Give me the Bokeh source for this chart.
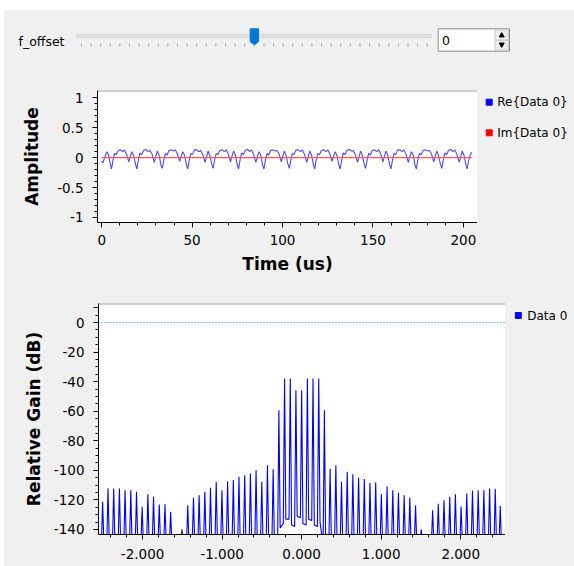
from bokeh.plotting import figure
from bokeh.models import Range1d, Span, FixedTicker, Spacer
from bokeh.layouts import column, row
from bokeh.embed import file_html
from bokeh.resources import INLINE
from bokeh.core.properties import value

# ---------------- data ----------------
slider_label = "f_offset"
slider_min, slider_max, slider_value = -18, 18, 0
slider_ticks = list(range(-18, 19))
spin_text = "0"

re_t = [
    0.00, 0.70, 1.60, 2.80, 3.90, 4.70,
    5.40, 6.20, 7.10, 8.00, 9.10, 10.40, 11.60, 12.60, 13.80, 15.00, 15.70, 16.70, 17.70, 18.60,
    19.45, 20.25, 21.15, 22.05, 23.15, 24.45, 25.65, 26.65, 27.85, 29.05, 29.75, 30.75, 31.75, 32.65,
    33.50, 34.30, 35.20, 36.10, 37.20, 38.50, 39.70, 40.70, 41.90, 43.10, 43.80, 44.80, 45.80, 46.70,
    47.55, 48.35, 49.25, 50.15, 51.25, 52.55, 53.75, 54.75, 55.95, 57.15, 57.85, 58.85, 59.85, 60.75,
    61.60, 62.40, 63.30, 64.20, 65.30, 66.60, 67.80, 68.80, 70.00, 71.20, 71.90, 72.90, 73.90, 74.80,
    75.65, 76.45, 77.35, 78.25, 79.35, 80.65, 81.85, 82.85, 84.05, 85.25, 85.95, 86.95, 87.95, 88.85,
    89.70, 90.50, 91.40, 92.30, 93.40, 94.70, 95.90, 96.90, 98.10, 99.30, 100.00, 101.00, 102.00, 102.90,
    103.75, 104.55, 105.45, 106.35, 107.45, 108.75, 109.95, 110.95, 112.15, 113.35, 114.05, 115.05, 116.05, 116.95,
    117.80, 118.60, 119.50, 120.40, 121.50, 122.80, 124.00, 125.00, 126.20, 127.40, 128.10, 129.10, 130.10, 131.00,
    131.85, 132.65, 133.55, 134.45, 135.55, 136.85, 138.05, 139.05, 140.25, 141.45, 142.15, 143.15, 144.15, 145.05,
    145.90, 146.70, 147.60, 148.50, 149.60, 150.90, 152.10, 153.10, 154.30, 155.50, 156.20, 157.20, 158.20, 159.10,
    159.95, 160.75, 161.65, 162.55, 163.65, 164.95, 166.15, 167.15, 168.35, 169.55, 170.25, 171.25, 172.25, 173.15,
    174.00, 174.80, 175.70, 176.60, 177.70, 179.00, 180.20, 181.20, 182.40, 183.60, 184.30, 185.30, 186.30, 187.20,
    188.05, 188.85, 189.75, 190.65, 191.75, 193.05, 194.25, 195.25, 196.45, 197.65, 198.35, 199.35, 200.35, 201.25,
    202.10, 202.90, 203.80, 204.60,
]
re_v = [
    -0.06, -0.09, 0.00, 0.10, 0.03, -0.10,
    -0.19, -0.05, 0.07, 0.05, 0.12, 0.13, 0.10, 0.13, 0.05, -0.07, 0.01, 0.10, 0.03, -0.10,
    -0.19, -0.04, 0.08, 0.05, 0.12, 0.14, 0.10, 0.12, 0.06, -0.08, 0.00, 0.11, 0.04, -0.11,
    -0.18, -0.05, 0.07, 0.04, 0.12, 0.13, 0.11, 0.13, 0.06, -0.06, 0.01, 0.10, 0.04, -0.10,
    -0.19, -0.05, 0.07, 0.05, 0.13, 0.13, 0.10, 0.12, 0.05, -0.08, 0.00, 0.11, 0.03, -0.10,
    -0.18, -0.04, 0.07, 0.05, 0.12, 0.13, 0.10, 0.13, 0.06, -0.07, 0.01, 0.11, 0.04, -0.10,
    -0.19, -0.05, 0.08, 0.05, 0.12, 0.14, 0.10, 0.13, 0.05, -0.08, 0.00, 0.10, 0.04, -0.11,
    -0.19, -0.05, 0.07, 0.04, 0.12, 0.13, 0.11, 0.12, 0.06, -0.07, 0.01, 0.11, 0.03, -0.10,
    -0.18, -0.05, 0.07, 0.05, 0.13, 0.13, 0.10, 0.13, 0.05, -0.08, 0.00, 0.11, 0.04, -0.10,
    -0.19, -0.04, 0.07, 0.05, 0.12, 0.13, 0.10, 0.13, 0.06, -0.06, 0.01, 0.10, 0.04, -0.11,
    -0.19, -0.05, 0.08, 0.05, 0.12, 0.14, 0.11, 0.12, 0.05, -0.08, 0.00, 0.11, 0.03, -0.10,
    -0.18, -0.05, 0.07, 0.04, 0.12, 0.13, 0.10, 0.13, 0.06, -0.07, 0.01, 0.11, 0.04, -0.10,
    -0.19, -0.05, 0.07, 0.05, 0.13, 0.13, 0.10, 0.13, 0.05, -0.08, 0.00, 0.10, 0.04, -0.11,
    -0.19, -0.04, 0.07, 0.05, 0.12, 0.13, 0.11, 0.12, 0.06, -0.07, 0.01, 0.11, 0.03, -0.10,
    -0.18, -0.05, 0.08, 0.05, 0.12, 0.14, 0.10, 0.13, 0.05, -0.08, 0.00, 0.11, 0.04, -0.10,
    -0.19, -0.05, 0.05, 0.09,
]
im_t = [0.0, 204.6]
im_v = [0.0, 0.0]

time_ticks = [0, 50, 100, 150, 200]
time_minor = [10, 20, 30, 40, 60, 70, 80, 90, 110, 120, 130, 140, 160, 170, 180, 190]
amp_ticks = [-1, -0.5, 0, 0.5, 1]
amp_tick_labels = ["-1", "-0.5", "0", "0.5", "1"]
amp_minor = [-0.9, -0.8, -0.7, -0.6, -0.4, -0.3, -0.2, -0.1,
             0.1, 0.2, 0.3, 0.4, 0.6, 0.7, 0.8, 0.9]

spec_f = [-2.502, -2.434, -2.363, -2.291, -2.220, -2.148, -2.076, -2.005, -1.933, -1.862,
          -1.790, -1.718, -1.647, -1.504, -1.432, -1.360, -1.289, -1.217, -1.146, -1.074,
          -1.002, -0.931, -0.859, -0.788, -0.716, -0.644, -0.573, -0.501, -0.430, -0.358,
          -0.286, -0.215, -0.143, -0.072, 0.000, 0.072, 0.143, 0.215, 0.286,
          0.358, 0.430, 0.501, 0.573, 0.644, 0.716, 0.788, 0.859, 0.931, 1.002,
          1.074, 1.146, 1.217, 1.289, 1.360, 1.432, 1.504, 1.647, 1.718, 1.790,
          1.862, 1.933, 2.005, 2.076, 2.148, 2.220, 2.291, 2.363, 2.434, 2.497]
spec_peak = [-121.3, -112.3, -112.3, -112.3, -113.4, -113.4, -114.5, -124.7, -116.1, -117.9,
             -123.1, -122.9, -128.1, -139.8, -123.6, -118.6, -116.8, -114.5, -111.8, -107.8,
             -113.4, -107.3, -106.6, -104.4, -103.3, -102.1, -99.9, -107.8, -96.5, -99.2,
             -59.3, -37.9, -37.9, -45.8, -45.8, -37.9, -37.9, -37.9, -59.3,
             -99.0, -96.5, -107.8, -101.0, -102.7, -105.0, -105.8, -108.5, -108.1, -116.0,
             -111.0, -113.4, -115.1, -116.8, -118.6, -123.6, -139.8, -127.0, -122.6, -120.2,
             -117.9, -116.2, -124.4, -115.6, -113.6, -113.4, -113.4, -112.3, -112.5, -124.2]
# low points left / right of each spike (below -143 means off the bottom of the plot)
spec_low_left = [-150.0] * 31 + [-136.0, -133.0, -138.0, -132.0, -137.0, -134.0, -138.0] + [-150.0] * 31
spec_low_right = [-150.0] * 30 + [-139.0, -133.0, -137.0, -131.0, -136.0, -133.0, -137.0, -135.0] + [-150.0] * 31
ref_level = 0.0

freq_ticks = [-2, -1, 0, 1, 2]
freq_tick_labels = ["-2.000", "-1.000", "0.000", "1.000", "2.000"]
freq_minor = [-2.4, -2.2, -1.8, -1.6, -1.4, -1.2, -0.8, -0.6, -0.4, -0.2,
              0.2, 0.4, 0.6, 0.8, 1.2, 1.4, 1.6, 1.8, 2.2, 2.4]
gain_ticks = [-140, -120, -100, -80, -60, -40, -20, 0, 10]
gain_tick_labels = ["-140", "-120", "-100", "-80", "-60", "-40", "-20", "0", ""]
gain_minor = [-135, -130, -125, -115, -110, -105, -95, -90, -85, -75, -70, -65,
              -55, -50, -45, -35, -30, -25, -15, -10, -5, 5]

time_legend = ["Re{Data 0}", "Im{Data 0}"]
time_legend_colors = ["#0000ff", "#ff0000"]
freq_legend = ["Data 0"]
freq_legend_colors = ["#0000ff"]

# ---------------- style ----------------
GRAY = "#f0f0f0"
FONT = "DejaVu Sans"


def style_axes(p):
    for ax in list(p.xaxis) + list(p.yaxis):
        ax.axis_line_color = "#000000"
        ax.major_tick_line_color = "#000000"
        ax.minor_tick_line_color = "#000000"
        ax.major_tick_in = 0
        ax.major_tick_out = 5
        ax.minor_tick_in = 0
        ax.minor_tick_out = 3
        ax.major_label_text_font = FONT
        ax.major_label_text_font_size = "13.5px"
        ax.major_label_text_color = "#000000"
        ax.axis_label_text_font = FONT
        ax.axis_label_text_font_size = "17px"
        ax.axis_label_text_font_style = "bold"
        ax.axis_label_text_color = "#000000"
    p.xgrid.visible = False
    p.ygrid.visible = False


def legend_fig(w, h, y_top, y_bottom, labels, colors, sq_x, row_y, row_gap, text_x):
    # the frame of this figure is aligned with its neighbour's frame (page y_top..y_bottom)
    f = figure(width=w, height=h, x_range=Range1d(0, w), y_range=Range1d(y_bottom, y_top),
               output_backend="svg", toolbar_location=None, min_border=0,
               x_axis_location=None, y_axis_location=None,
               background_fill_color=GRAY, border_fill_color=GRAY, outline_line_color=None)
    f.xgrid.visible = False
    f.ygrid.visible = False
    ys = [row_y + i * row_gap for i in range(len(labels))]
    f.scatter(x=[sq_x] * len(labels), y=ys, marker="square", size=6,
              fill_color=colors, line_color=colors)
    f.text(x=[text_x] * len(labels), y=ys, text=labels, text_font=value(FONT),
           text_font_size="12px", text_baseline="middle", text_align="left", text_color="#000000")
    return f


# ---------------- slider row (page x 4..574, y 10..70) ----------------
px_per_unit = 9.603
def su(px):
    return slider_min + (px - 81.0) / px_per_unit

p0 = figure(width=570, height=60, x_range=Range1d(su(4), su(574)), y_range=Range1d(70, 10),
            output_backend="svg", toolbar_location=None, min_border=0,
            x_axis_location=None, y_axis_location=None,
            background_fill_color=GRAY, border_fill_color=GRAY, outline_line_color=None)
p0.xgrid.visible = False
p0.ygrid.visible = False
p0.text(x=[su(18)], y=[40.5], text=[slider_label], text_font=value(FONT), text_font_size="12.5px",
        text_baseline="middle", text_align="left", text_color="#000000")
p0.quad(left=[su(76)], right=[su(431)], top=[33.8], bottom=[36.8],
        fill_color="#e6e6e6", line_color="#d4d4d4", line_width=1)
p0.segment(x0=slider_ticks, y0=[42.8] * len(slider_ticks), x1=slider_ticks, y1=[46] * len(slider_ticks),
           line_color="#a8a8a8", line_width=1)
hw = 4.2 / px_per_unit
p0.patch(x=[slider_value - hw, slider_value + hw, slider_value + hw, slider_value, slider_value - hw],
         y=[28.3, 28.3, 41.2, 44.3, 41.2], fill_color="#0078d7", line_color="#0078d7", line_width=1)
p0.quad(left=[su(437.7)], right=[su(509)], top=[28.3], bottom=[50.7],
        fill_color="#ffffff", line_color="#8c8c8c", line_width=1)
p0.quad(left=[su(494.5)], right=[su(508)], top=[29.3], bottom=[39.7],
        fill_color="#ececec", line_color="#c8c8c8", line_width=1)
p0.quad(left=[su(494.5)], right=[su(508)], top=[39.7], bottom=[49.7],
        fill_color="#ececec", line_color="#c8c8c8", line_width=1)
p0.scatter(x=[su(501.2)], y=[35.0], marker="triangle", size=5, fill_color="#000000", line_color="#000000")
p0.scatter(x=[su(501.2)], y=[44.0], marker="inverted_triangle", size=5, fill_color="#000000", line_color="#000000")
p0.text(x=[su(441.5)], y=[40], text=[spin_text], text_font=value(FONT), text_font_size="12.5px",
        text_baseline="middle", text_align="left", text_color="#000000")

# ---------------- time plot (page x 4..477, y 70..288) ----------------
p1 = figure(width=473, height=218, x_range=Range1d(-2.33, 207.8), y_range=Range1d(-1.084, 1.122),
            output_backend="svg", toolbar_location=None,
            min_border_left=93, min_border_right=0, min_border_top=20, min_border_bottom=66,
            background_fill_color="#ffffff", border_fill_color=GRAY, outline_line_color=None)
p1.line(re_t, re_v, line_color="#4a4aff", line_width=1.1)
p1.line(im_t, im_v, line_color="#ff5a5a", line_width=1.2)
p1.add_layout(Span(location=1.122, dimension="width", line_color="#a0a0a0", line_width=2))
p1.xaxis.ticker = FixedTicker(ticks=time_ticks, minor_ticks=time_minor)
p1.yaxis.ticker = FixedTicker(ticks=amp_ticks, minor_ticks=amp_minor)
p1.yaxis.major_label_overrides = {t: l for t, l in zip(amp_ticks, amp_tick_labels)}
p1.xaxis.axis_label = "Time (us)"
p1.yaxis.axis_label = "Amplitude"
style_axes(p1)
p1.xaxis.major_label_standoff = 7
p1.xaxis.axis_label_standoff = 6
p1.yaxis.major_label_standoff = 9
p1.yaxis.axis_label_standoff = 12
l1 = legend_fig(97, 218, 90, 222, time_legend, time_legend_colors, 11.7, 101.7, 30.6, 19.7)

# ---------------- frequency plot (page x 4..505, y 288..566) ----------------
spike_hw = 0.016
sx, sy = [], []
for f, pk, lo_l, lo_r in zip(spec_f, spec_peak, spec_low_left, spec_low_right):
    sx += [f - spike_hw, f, f + spike_hw]
    sy += [lo_l, pk, lo_r]

p2 = figure(width=501, height=278, x_range=Range1d(-2.554, 2.563), y_range=Range1d(-143.4, 12.9),
            output_backend="svg", toolbar_location=None,
            min_border_left=94, min_border_right=0, min_border_top=15, min_border_bottom=32,
            background_fill_color="#ffffff", border_fill_color=GRAY, outline_line_color=None)
p2.line(sx, sy, line_color="#0000ff", line_width=1.1)
p2.add_layout(Span(location=ref_level, dimension="width", line_color="#00a0a8", line_width=1, line_dash="1 2"))
p2.add_layout(Span(location=12.9, dimension="width", line_color="#a0a0a0", line_width=2))
p2.xaxis.ticker = FixedTicker(ticks=freq_ticks, minor_ticks=freq_minor)
p2.xaxis.major_label_overrides = {t: l for t, l in zip(freq_ticks, freq_tick_labels)}
p2.yaxis.ticker = FixedTicker(ticks=gain_ticks, minor_ticks=gain_minor)
p2.yaxis.major_label_overrides = {t: l for t, l in zip(gain_ticks, gain_tick_labels)}
p2.yaxis.axis_label = "Relative Gain (dB)"
style_axes(p2)
p2.xaxis.major_label_standoff = 9
p2.yaxis.major_label_standoff = 9
p2.yaxis.axis_label_standoff = 7
l2 = legend_fig(69, 278, 303, 534, freq_legend, freq_legend_colors, 12.8, 315.0, 30.6, 21.7)

gbg = {"background-color": GRAY}
body = column(p0, row(p1, l1, spacing=0, styles=gbg), row(p2, l2, spacing=0, styles=gbg),
              spacing=0, styles=gbg)
layout = column(Spacer(width=574, height=10),
                row(Spacer(width=4, height=556), body, spacing=0), spacing=0)
open("out.html", "w").write(file_html(layout, INLINE))
